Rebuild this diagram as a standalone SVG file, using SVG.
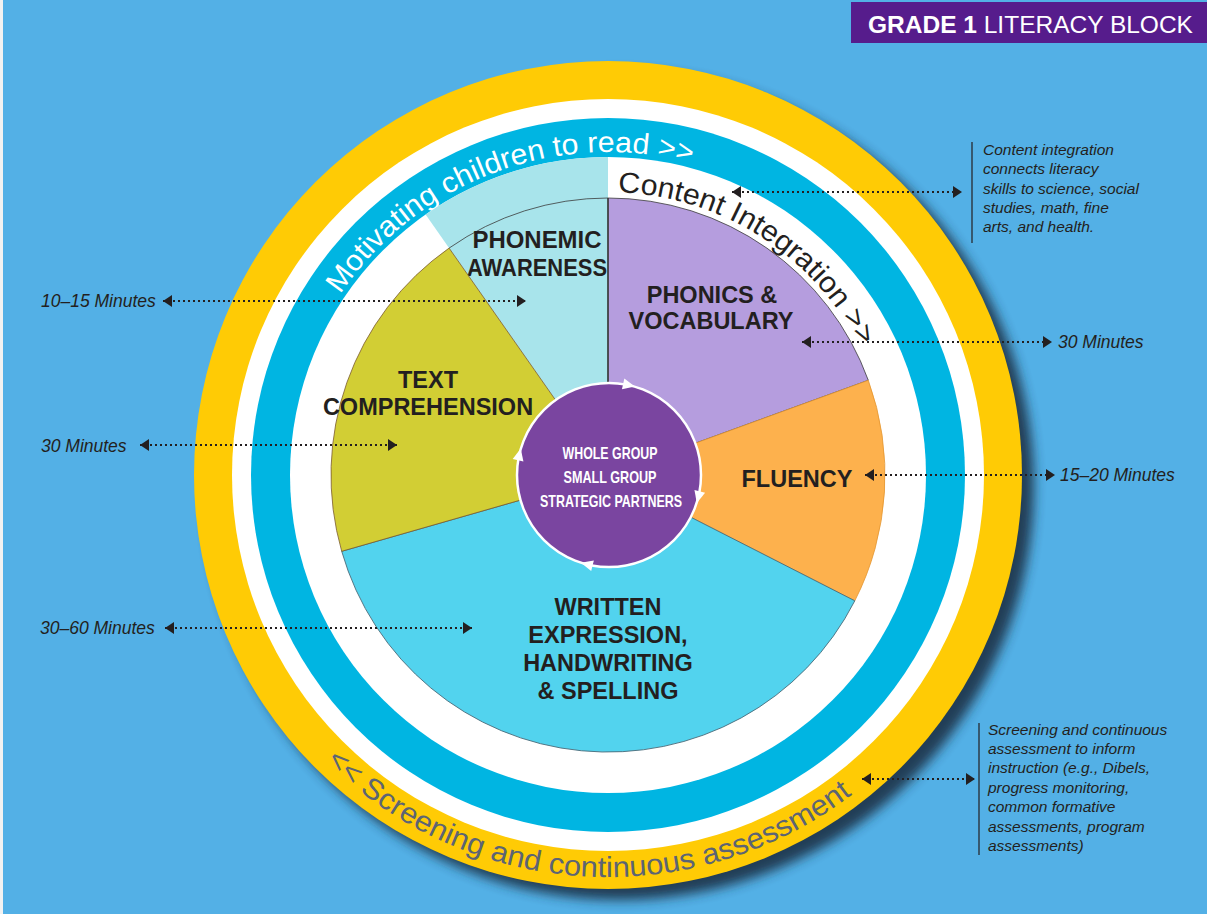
<svg xmlns="http://www.w3.org/2000/svg" width="1207" height="914" viewBox="0 0 1207 914">
<defs>
<style>
.lbl{font-family:"Liberation Sans",Arial,sans-serif;font-weight:bold;font-size:23.5px;fill:#231F20;text-anchor:middle}
.mins{font-family:"Liberation Sans",Arial,sans-serif;font-style:italic;font-size:17.5px;fill:#231F20}
.note{font-family:"Liberation Sans",Arial,sans-serif;font-style:italic;font-size:15.5px;fill:#231F20}
.ctr{font-family:"Liberation Sans",Arial,sans-serif;font-weight:bold;font-size:17px;fill:#FFFFFF;text-anchor:middle}
.dot{stroke:#231F20;stroke-width:2.2;stroke-dasharray:2 3;fill:none;marker-start:url(#ah);marker-end:url(#ah)}
.edge{stroke:#3a3a3a;stroke-width:0.8;fill:none}
.ring{font-family:"Liberation Sans",Arial,sans-serif;font-size:29px}
</style>
<marker id="ah" viewBox="0 -7 10 14" refX="9" refY="0" markerWidth="10" markerHeight="14" markerUnits="userSpaceOnUse" orient="auto-start-reverse">
<path d="M0,-6 L9,0 L0,6 Z" fill="#231F20"/>
</marker>
<filter id="sh" x="-20%" y="-20%" width="140%" height="140%">
<feGaussianBlur stdDeviation="6"/>
</filter>
<path id="tri" d="M6,0 L-6,-5.5 L-6,5.5 Z" fill="#FFFFFF"/>
<path id="pMot" d="M340.2,294.4 A323,323 0 0 1 744.5,182.3"/>
<path id="pCon" d="M617.9,192.2 A283,283 0 0 1 873.9,378.2"/>
<path id="pScr" d="M318.8,754.3 A402,402 0 0 0 892.3,759.3"/>
</defs>

<rect x="0" y="0" width="1207" height="914" fill="#F2F2F2"/>
<rect x="3" y="0" width="1204" height="914" fill="#53B0E6"/>

<g id="title">
<rect x="851" y="2" width="356" height="41" fill="#561C8C"/>
<text x="868" y="33" font-family="Liberation Sans, Arial, sans-serif" font-size="24.5" fill="#FFFFFF"><tspan font-weight="bold">GRADE 1</tspan> LITERACY BLOCK</text>
</g>

<g id="wheel">
<circle cx="620" cy="486" r="414" fill="#1d3346" opacity="0.9" filter="url(#sh)"/>
<circle cx="608" cy="475" r="414" fill="#FFCB05"/>
<circle cx="608" cy="475" r="376" fill="#FFFFFF"/>
<circle cx="608" cy="475" r="357" fill="#00B5E2"/>
<circle cx="608" cy="475" r="318" fill="#FFFFFF"/>
</g>

<g id="ring-motivating">
<text class="ring" fill="#FFFFFF"><textPath href="#pMot" textLength="400" lengthAdjust="spacingAndGlyphs">Motivating children to read &gt;&gt;</textPath></text>
</g>

<g id="phonemic-awareness">
<path d="M608,475 L425.6,214.5 A318,318 0 0 1 608,157 Z" fill="#A8E4EB"/>
<path class="edge" d="M449.1,248.1 A277,277 0 0 1 608,198"/>
<text class="lbl" x="537" y="248" textLength="129" lengthAdjust="spacingAndGlyphs">PHONEMIC</text>
<text class="lbl" x="537" y="276" textLength="140" lengthAdjust="spacingAndGlyphs">AWARENESS</text>
</g>

<g id="ring-content">
<text class="ring" font-size="30" fill="#231F20"><textPath href="#pCon" textLength="301" lengthAdjust="spacingAndGlyphs">Content Integration &gt;&gt;</textPath></text>
</g>

<g id="phonics-vocabulary">
<path d="M608,475 L608,198 A277,277 0 0 1 868.3,380.3 Z" fill="#B59DDE" stroke="#3a3a3a" stroke-width="0.8"/>
<text class="lbl" x="712" y="303">PHONICS &amp;</text>
<text class="lbl" x="711" y="329">VOCABULARY</text>
</g>

<g id="fluency">
<path d="M608,475 L868.3,380.3 A277,277 0 0 1 854.8,600.8 Z" fill="#FDB14D" stroke="#E39530" stroke-width="0.8"/>
<text class="lbl" x="797" y="487">FLUENCY</text>
</g>

<g id="written-expression">
<path d="M608,475 L854.8,600.8 A277,277 0 0 1 341.7,551.3 Z" fill="#52D3EE" stroke="#4a6a78" stroke-width="0.9"/>
<text class="lbl" x="608" y="615">WRITTEN</text>
<text class="lbl" x="608" y="643">EXPRESSION,</text>
<text class="lbl" x="608" y="671">HANDWRITING</text>
<text class="lbl" x="608" y="699">&amp; SPELLING</text>
</g>

<g id="text-comprehension">
<path d="M608,475 L341.7,551.3 A277,277 0 0 1 449.1,248.1 Z" fill="#D2CE34" stroke="#7a5a30" stroke-width="0.8"/>
<text class="lbl" x="428" y="388">TEXT</text>
<text class="lbl" x="428" y="415">COMPREHENSION</text>
</g>

<line x1="608" y1="198" x2="608" y2="384" stroke="#3a3a3a" stroke-width="1.5"/>

<g id="center">
<circle cx="609" cy="475" r="92" fill="#7A45A0" stroke="#FFFFFF" stroke-width="2.5"/>
<use href="#tri" transform="translate(629,385.2) rotate(12.7)"/>
<use href="#tri" transform="translate(698.3,497.2) rotate(104)"/>
<use href="#tri" transform="translate(586.7,564.3) rotate(194)"/>
<use href="#tri" transform="translate(519.4,454.3) rotate(283)"/>
<text class="ctr" x="610" y="459" textLength="95" lengthAdjust="spacingAndGlyphs">WHOLE GROUP</text>
<text class="ctr" x="610" y="483" textLength="93" lengthAdjust="spacingAndGlyphs">SMALL GROUP</text>
<text class="ctr" x="611" y="507" textLength="142" lengthAdjust="spacingAndGlyphs">STRATEGIC PARTNERS</text>
</g>

<g id="ring-screening">
<text class="ring" font-size="30" fill="#5C6474"><textPath href="#pScr" startOffset="10" textLength="575" lengthAdjust="spacingAndGlyphs">&lt;&lt; Screening and continuous assessment</textPath></text>
</g>

<g id="connectors">
<line class="dot" x1="732" y1="192" x2="962" y2="192"/>
<line class="dot" x1="163" y1="301" x2="526" y2="301"/>
<line class="dot" x1="802" y1="342" x2="1052" y2="342"/>
<line class="dot" x1="140" y1="445" x2="397" y2="445"/>
<line class="dot" x1="865" y1="475" x2="1055" y2="475"/>
<line class="dot" x1="165" y1="628" x2="472" y2="628"/>
<line class="dot" x1="862" y1="779" x2="975" y2="779"/>
</g>

<g id="label-10-15"><text class="mins" x="41" y="307">10–15 Minutes</text></g>
<g id="label-30-left"><text class="mins" x="41" y="452">30 Minutes</text></g>
<g id="label-30-60"><text class="mins" x="40" y="634">30–60 Minutes</text></g>
<g id="label-30-right"><text class="mins" x="1058" y="348">30 Minutes</text></g>
<g id="label-15-20"><text class="mins" x="1060" y="481">15–20 Minutes</text></g>

<g id="note-content">
<line x1="972" y1="142" x2="972" y2="243" stroke="#231F20" stroke-width="1.2"/>
<text class="note" x="983" y="155">Content integration</text>
<text class="note" x="983" y="174">connects literacy</text>
<text class="note" x="983" y="194">skills to science, social</text>
<text class="note" x="983" y="213">studies, math, fine</text>
<text class="note" x="983" y="232">arts, and health.</text>
</g>

<g id="note-screening">
<line x1="979" y1="723" x2="979" y2="855" stroke="#231F20" stroke-width="1.2"/>
<text class="note" x="988" y="735">Screening and continuous</text>
<text class="note" x="988" y="754">assessment to inform</text>
<text class="note" x="988" y="773">instruction (e.g., Dibels,</text>
<text class="note" x="988" y="793">progress monitoring,</text>
<text class="note" x="988" y="812">common formative</text>
<text class="note" x="988" y="832">assessments, program</text>
<text class="note" x="988" y="851">assessments)</text>
</g>
</svg>
